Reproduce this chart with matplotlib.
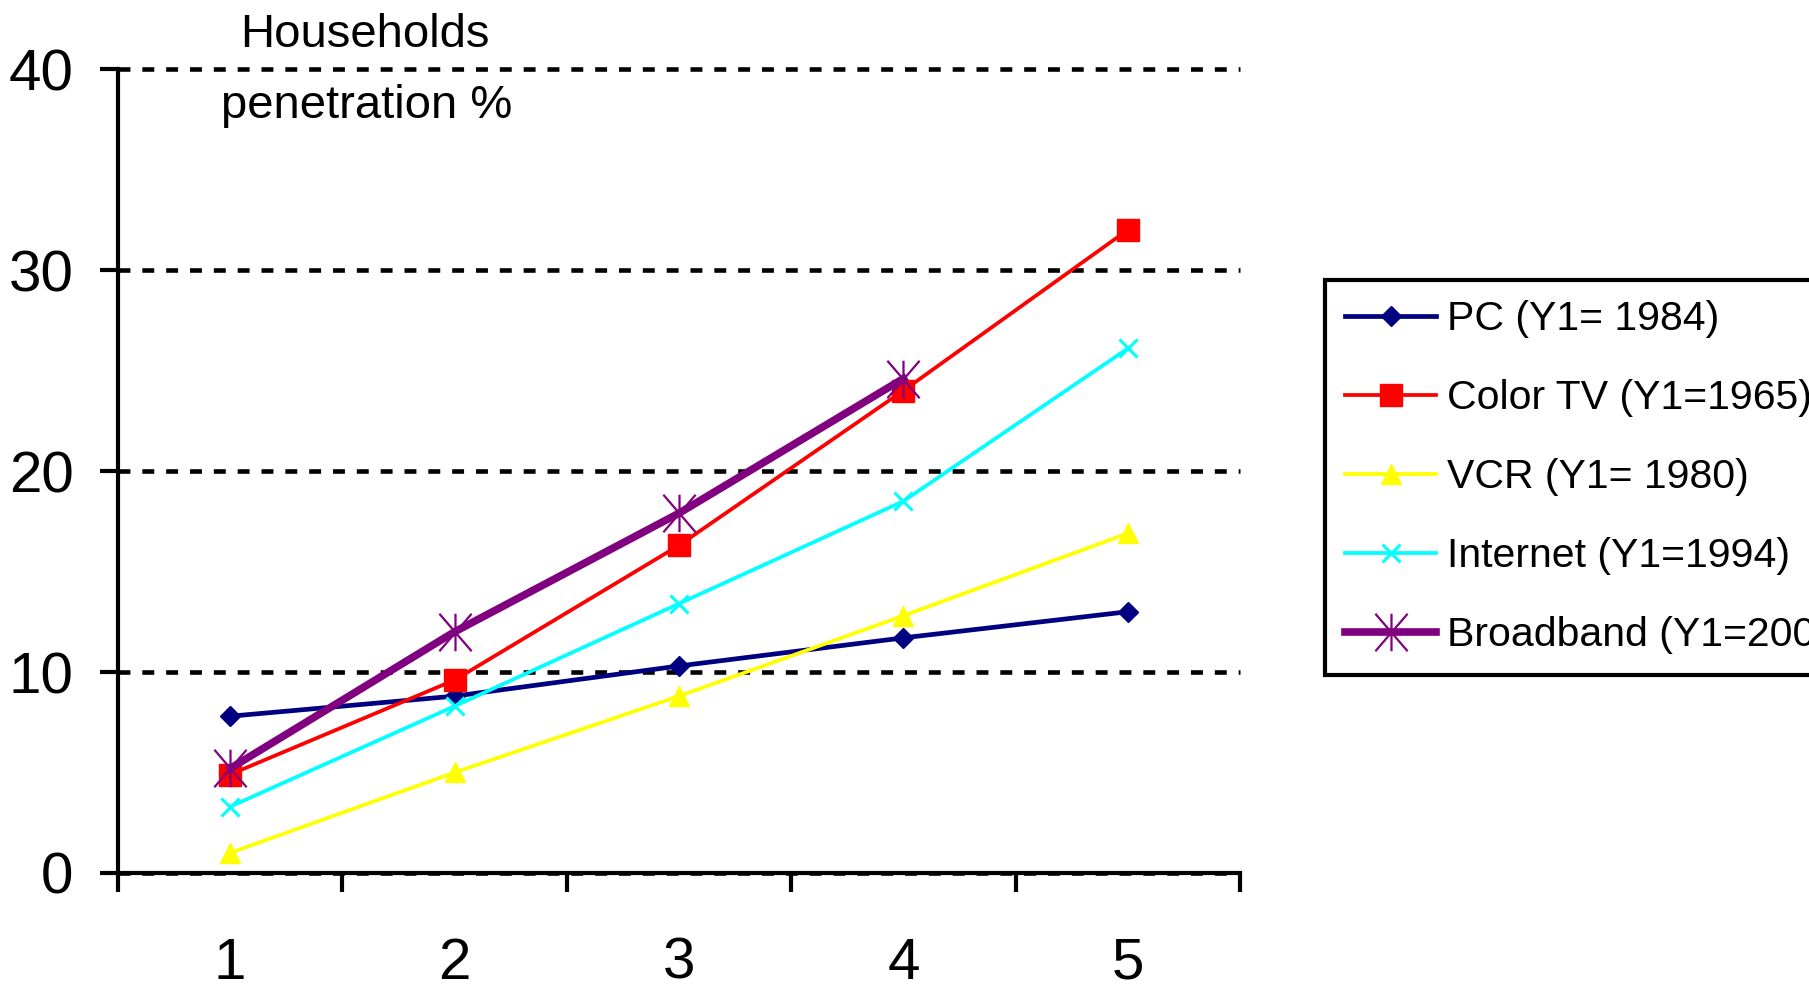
import matplotlib
matplotlib.use("Agg")
import matplotlib.pyplot as plt
from matplotlib.path import Path

plt.rcParams['font.family'] = ['Liberation Sans', 'DejaVu Sans']

# years since first year of household adoption
years = [1, 2, 3, 4, 5]

pc = [7.8, 8.8, 10.3, 11.7, 13.0]
color_tv = [4.9, 9.6, 16.3, 24.0, 32.0]
vcr = [1.0, 5.0, 8.8, 12.8, 16.9]
internet = [3.3, 8.3, 13.4, 18.5, 26.1]
broadband = [5.2, 12.0, 17.9, 24.6]

labels = ["PC (Y1= 1984)", "Color TV (Y1=1965)", "VCR (Y1= 1980)",
          "Internet (Y1=1994)", "Broadband (Y1=2001)"]
y_ticks = [0, 10, 20, 30, 40]

# asterisk marker (vertical bar + cross)
asterisk = Path([(0, -1), (0, 1), (-0.86, -1), (0.86, 1), (-0.86, 1), (0.86, -1)],
                [Path.MOVETO, Path.LINETO, Path.MOVETO, Path.LINETO, Path.MOVETO, Path.LINETO])

fig = plt.figure(figsize=(18.09, 9.89), dpi=100)
ax = fig.add_axes([0.0652, 0.1173, 0.6203, 0.8129])

ax.plot(years, pc, color="#000080", lw=3.4, marker="D", ms=10.5, label=labels[0])
ax.plot(years, color_tv, color="#FF0000", lw=2.7, marker="s", ms=15.5, label=labels[1])
ax.plot(years, vcr, color="#FFFF00", lw=2.7, marker="^", ms=15, label=labels[2])
ax.plot(years, internet, color="#00FFFF", lw=2.7, marker="x", ms=13, mew=2.2, label=labels[3])
ax.plot(years[:len(broadband)], broadband, color="#800080", lw=5.5, marker=asterisk,
        ms=27, mew=1.6, label=labels[4])

ax.set_xlim(0.5, 5.5)
ax.set_ylim(0, 40)
ax.set_yticks(y_ticks)
ax.set_xticks(years)
ax.set_xticks([0.5, 1.5, 2.5, 3.5, 4.5, 5.5], minor=True)

ax.grid(axis='y', color='black', lw=3.3, linestyle=(0, (2.6, 2.6)))
ax.set_axisbelow(True)
for gl in ax.get_ygridlines():
    gl.set_clip_on(False)

for s in ["top", "right"]:
    ax.spines[s].set_visible(False)
for s in ["left", "bottom"]:
    ax.spines[s].set_linewidth(3)

ax.tick_params(axis='y', length=13, width=3, pad=19, labelsize=42, direction='out')
ax.tick_params(axis='x', which='major', length=0, pad=46, labelsize=42)
ax.tick_params(axis='x', which='minor', length=14, width=3, direction='out')

fig.text(365 / 1809, 1 - 47 / 989, "Households", ha='center', va='baseline', fontsize=34)
fig.text(367 / 1809, 1 - 118 / 989, "penetration %", ha='center', va='baseline', fontsize=34)

leg = fig.legend(loc='upper left', bbox_to_anchor=(1325 / 1809, 1 - 280 / 989),
                 borderaxespad=0, fontsize=29.5, numpoints=1, handlelength=2.2,
                 handletextpad=0.28, labelspacing=1.0, borderpad=0.5,
                 fancybox=False, framealpha=1)
leg.get_frame().set_edgecolor('black')
leg.get_frame().set_linewidth(3)

fig.savefig("out.png", dpi=100)
